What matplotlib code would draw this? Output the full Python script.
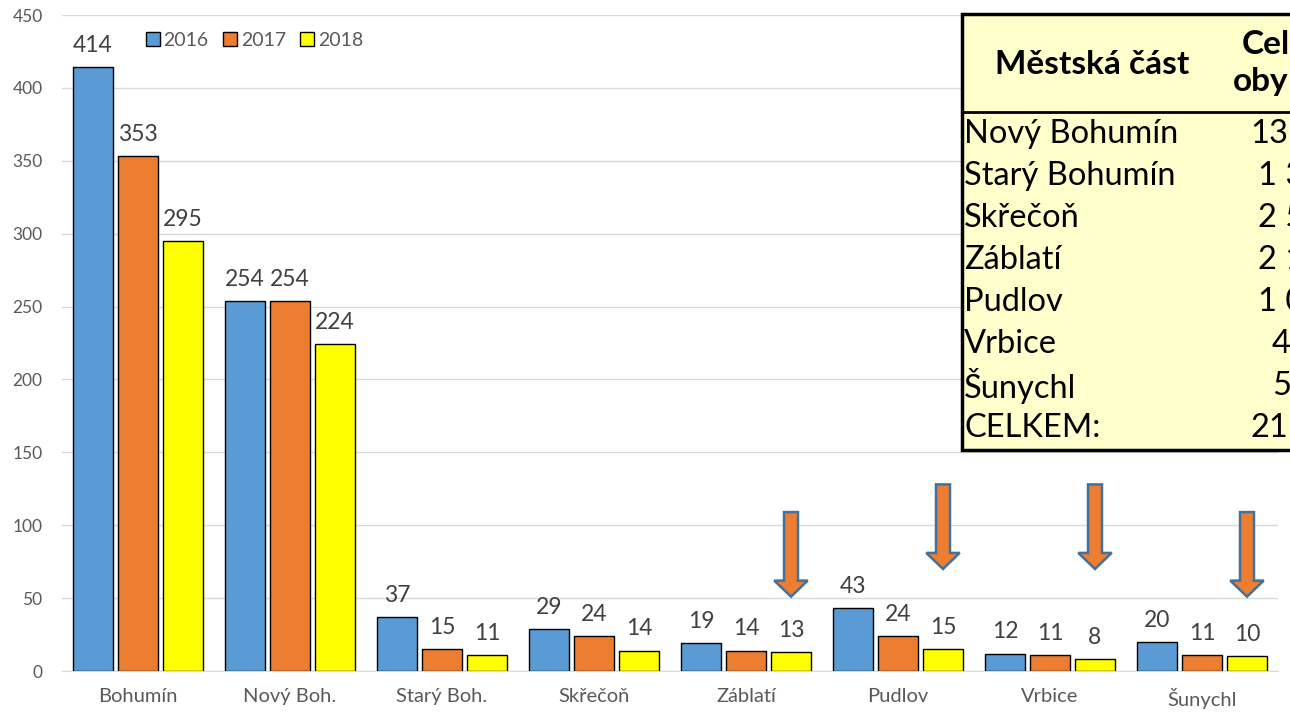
import numpy as np
import matplotlib.pyplot as plt
from matplotlib.patches import Rectangle, FancyArrow

# chart data
categories = ['Bohumín', 'Nový Boh.', 'Starý Boh.', 'Skřečoň', 'Záblatí', 'Pudlov', 'Vrbice', 'Šunychl']
years = ['2016', '2017', '2018']
v2016 = [414, 254, 37, 29, 19, 43, 12, 20]
v2017 = [353, 254, 15, 24, 14, 24, 11, 11]
v2018 = [295, 224, 11, 14, 13, 15, 8, 10]
colors = ['#5B9BD5', '#ED7D31', '#FFFF00']

# arrows pointing to the 2018 bars of the last four parts
arrow_cats = [4, 5, 6, 7]
arrow_top = [109, 128, 128, 109]
arrow_tip = [51, 70, 70, 51]

# table overlay (cut at the right edge in the original)
table_header = ['Městská část', 'Cel', 'oby']
table_rows = ['Nový Bohumín', 'Starý Bohumín', 'Skřečoň', 'Záblatí', 'Pudlov', 'Vrbice', 'Šunychl', 'CELKEM:']
table_vals = ['13', '1 3', '2 5', '2 1', '1 0', '4', '5', '21']
table_val_x = [1250, 1258, 1258, 1258, 1258, 1272, 1272, 1250]

FONT = ['Lato', 'DejaVu Sans']
plt.rcParams['font.family'] = FONT

fig = plt.figure(figsize=(12.9, 7.21), dpi=100)
ax = fig.add_axes([62 / 1290, 1 - 671 / 721, (1278 - 62) / 1290, (671 - 15) / 721])

x = np.arange(len(categories))
bw = 0.263
step = 0.296
series = [v2016, v2017, v2018]
for k, vals in enumerate(series):
    pos = x + (k - 1) * step
    bars = ax.bar(pos, vals, bw, color=colors[k], edgecolor='black', linewidth=1,
                  label=years[k], zorder=3)
    for b, v in zip(bars, vals):
        ax.annotate(str(v), (b.get_x() + b.get_width() / 2, v), xytext=(0, 8),
                    textcoords='offset points', ha='center', va='bottom',
                    fontsize=16.5, color='#404040')

for c, top, tip in zip(arrow_cats, arrow_top, arrow_tip):
    ax.add_patch(FancyArrow(c + step, top, 0, tip - top, width=0.092, head_width=0.22,
                            head_length=11, length_includes_head=True,
                            facecolor='#ED7D31', edgecolor='#41719C', linewidth=1.8,
                            zorder=4))

ax.set_xlim(-0.5, len(categories) - 0.5)
ax.set_ylim(0, 450)
ax.set_yticks(np.arange(0, 451, 50))
ax.set_xticks(x)
ax.set_xticklabels(categories)
ax.grid(axis='y', color='#D9D9D9', linewidth=1, zorder=0)
for s in ['top', 'right', 'left']:
    ax.spines[s].set_visible(False)
ax.spines['bottom'].set_color('#D9D9D9')
ax.tick_params(axis='y', length=0, pad=14, labelsize=12.5, labelcolor='#595959')
ax.tick_params(axis='x', length=0, pad=12, labelsize=14.5, labelcolor='#595959')

leg = ax.legend(loc='upper left', bbox_to_anchor=(146 / 1290, 1 - 32 / 721),
                bbox_transform=fig.transFigure, ncol=3, frameon=False,
                fontsize=14, handlelength=0.7, handleheight=0.7,
                handletextpad=0.2, columnspacing=0.75, borderaxespad=0,
                borderpad=0)
for t in leg.get_texts():
    t.set_color('#595959')

# table drawn in pixel coordinates on an overlay
ov = fig.add_axes([0, 0, 1, 1], zorder=5)
ov.set_xlim(0, 1290)
ov.set_ylim(721, 0)
ov.axis('off')
ov.add_patch(Rectangle((962, 14), 400, 436, facecolor='#FFFFCC', edgecolor='black',
                       linewidth=2.5, clip_on=False))
ov.plot([962, 1300], [112, 112], color='black', linewidth=2)
ov.text(1092, 64, table_header[0], ha='center', va='center', fontsize=24,
        fontweight='bold', color='black')
ov.text(1242, 44, table_header[1], ha='left', va='center', fontsize=24, fontweight='bold')
ov.text(1233, 82, table_header[2], ha='left', va='center', fontsize=24, fontweight='bold')
for i, (name, val, vx) in enumerate(zip(table_rows, table_vals, table_val_x)):
    yy = 134 + 42 * i
    ov.text(964, yy, name, ha='left', va='center', fontsize=23.5, color='black')
    ov.text(vx, yy, val, ha='left', va='center', fontsize=23.5, color='black')

fig.savefig('out.png', dpi=100)
